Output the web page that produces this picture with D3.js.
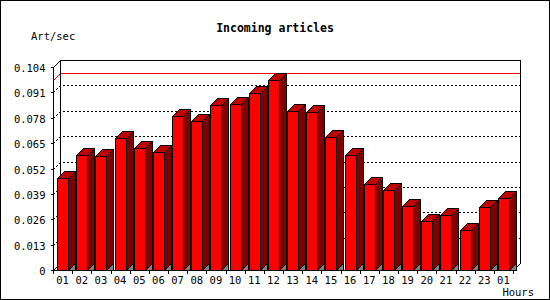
<!DOCTYPE html>
<html>
<head>
<meta charset="utf-8">
<script src="https://cdn.jsdelivr.net/npm/d3@7"></script>
<style>
  body { margin: 0; background: #fff; }
  svg { display: block; }
  text { font-family: "DejaVu Sans Mono", monospace; fill: #000; }
</style>
</head>
<body>
<script>
// hours of the day, last one wraps to 01
var hours = ["01","02","03","04","05","06","07","08","09","10","11","12",
             "13","14","15","16","17","18","19","20","21","22","23","01"];
var rates = [0.0470, 0.0589, 0.0584, 0.0676, 0.0625, 0.0603, 0.0789, 0.0763,
             0.0844, 0.0849, 0.0905, 0.0972, 0.0815, 0.0808, 0.0681, 0.0588,
             0.0439, 0.0408, 0.0326, 0.0249, 0.0280, 0.0205, 0.0321, 0.0367];
var yTicks = [0, 0.013, 0.026, 0.039, 0.052, 0.065, 0.078, 0.091, 0.104];
var yTickLabels = ["0","0.013","0.026","0.039","0.052","0.065","0.078","0.091","0.104"];

var W = 550, H = 300;
// plot box (front face); "top" is reserved by window, so use p* names
var pLeft = 53, pRight = 513, pBottom = 270, pTop = 67, depth = 7;

var svg = d3.select("body").append("svg")
  .attr("width", W).attr("height", H)
  .attr("shape-rendering", "crispEdges");

var x = d3.scaleBand()
  .domain(d3.range(hours.length))
  .range([pLeft, pRight])
  .padding(0);

var y = d3.scaleLinear()
  .domain([0, 0.104])
  .range([pBottom, pTop]);

function px(v) { return Math.round(v) + 0.5; }

// outer frame
svg.append("rect")
  .attr("x", 0.5).attr("y", 0.5).attr("width", W - 1).attr("height", H - 1)
  .attr("fill", "none").attr("stroke", "#000");

// title and axis names
svg.append("text").attr("x", 275).attr("y", 32)
  .attr("text-anchor", "middle")
  .style("font-weight", "bold").style("font-size", "11.5px")
  .text("Incoming articles");
svg.append("text").attr("x", 31).attr("y", 40)
  .style("font-size", "10.5px").text("Art/sec");
svg.append("text").attr("x", 534).attr("y", 296)
  .attr("text-anchor", "end")
  .style("font-size", "10.5px").text("Hours");

var plot = svg.append("g");

// back wall grid (dotted), with short diagonals on the left side wall
var grid = yTicks.filter(function(d) { return d > 0 && d < 0.104; });
plot.selectAll(".grid").data(grid).enter().append("path")
  .attr("class", "grid")
  .attr("fill", "none").attr("stroke", "#000").attr("stroke-dasharray", "2,2")
  .attr("d", function(d) {
    var yf = Math.round(y(d));
    return "M" + px(pLeft) + "," + px(yf) + "L" + px(pLeft + depth) + "," + px(yf - depth) +
           "L" + px(pRight + depth) + "," + px(yf - depth);
  });

// max line
var yMax = Math.round(y(d3.max(rates)));
plot.append("path")
  .attr("fill", "none").attr("stroke", "#ff0000")
  .attr("d", "M" + px(pLeft) + "," + px(yMax) + "L" + px(pLeft + depth) + "," + px(yMax - depth) +
             "L" + px(pRight + depth) + "," + px(yMax - depth));

// frame: back wall, side walls, floor
var yTop = Math.round(y(0.104));
plot.append("path")
  .attr("fill", "none").attr("stroke", "#000")
  .attr("d",
    "M" + px(pLeft) + "," + px(pBottom) + "L" + px(pLeft) + "," + px(yTop) +
    "L" + px(pLeft + depth) + "," + px(yTop - depth) +
    "L" + px(pRight + depth) + "," + px(yTop - depth) +
    "L" + px(pRight + depth) + "," + px(pBottom - depth) +
    "L" + px(pRight) + "," + px(pBottom) +
    "M" + px(pLeft + depth) + "," + px(yTop - depth) + "L" + px(pLeft + depth) + "," + px(pBottom - depth) +
    "L" + px(pLeft) + "," + px(pBottom) +
    "M" + px(pLeft) + "," + px(pBottom) + "L" + px(pRight) + "," + px(pBottom));

// bars
var fw = 11;
var bars = plot.selectAll(".bar").data(rates).enter().append("g").attr("class", "bar");
function fx(i) { return Math.round(x(i) + 4); }
function ft(d) { return Math.round(y(d)); }
function poly(pts) { return "M" + pts.map(function(p) { return px(p[0]) + "," + px(p[1]); }).join("L") + "Z"; }

bars.append("path").attr("fill", "#808080").attr("stroke", "#000")
  .attr("d", function(d, i) {
    var a = fx(i) + fw;
    return poly([[a, pBottom], [a + depth, pBottom - depth], [a + depth, pBottom]]);
  });
bars.append("path").attr("fill", "#ff0000").attr("stroke", "#000")
  .attr("d", function(d, i) {
    var a = fx(i), t = ft(d);
    return poly([[a, t], [a + fw, t], [a + fw, pBottom], [a, pBottom]]);
  });
bars.append("path").attr("fill", "#c00000").attr("stroke", "#000")
  .attr("d", function(d, i) {
    var a = fx(i), t = ft(d);
    return poly([[a, t], [a + depth, t - depth], [a + fw + depth, t - depth], [a + fw, t]]);
  });
bars.append("path").attr("fill", "#800000").attr("stroke", "#000")
  .attr("d", function(d, i) {
    var a = fx(i) + fw, t = ft(d);
    return poly([[a, t], [a + depth, t - depth], [a + depth, pBottom - depth], [a, pBottom]]);
  });

// y axis
var yAxis = d3.axisLeft(y)
  .tickValues(yTicks)
  .tickFormat(function(d, i) { return yTickLabels[i]; })
  .tickSize(3).tickSizeOuter(0);
var ya = svg.append("g").attr("transform", "translate(" + px(pLeft) + ",0)").call(yAxis);
ya.select(".domain").remove();
ya.selectAll(".tick").attr("transform", function(d) { return "translate(0," + px(y(d)) + ")"; });
ya.selectAll(".tick text").attr("x", -8).attr("dy", null).attr("y", 4)
  .style("font-size", "10.5px").style("font-family", "DejaVu Sans Mono, monospace");

// x axis: ticks at band boundaries, labels at band centres
var xa = svg.append("g");
xa.selectAll(".xt").data(d3.range(hours.length + 1)).enter().append("line")
  .attr("stroke", "#000")
  .attr("x1", function(i) { return px(pLeft + i * x.bandwidth()); })
  .attr("x2", function(i) { return px(pLeft + i * x.bandwidth()); })
  .attr("y1", px(pBottom)).attr("y2", px(pBottom + 3));
xa.selectAll(".xl").data(hours).enter().append("text")
  .attr("x", function(d, i) { return x(i) + x.bandwidth() / 2; })
  .attr("y", 284)
  .attr("text-anchor", "middle")
  .style("font-size", "10.5px")
  .text(function(d) { return d; });
</script>
</body>
</html>
